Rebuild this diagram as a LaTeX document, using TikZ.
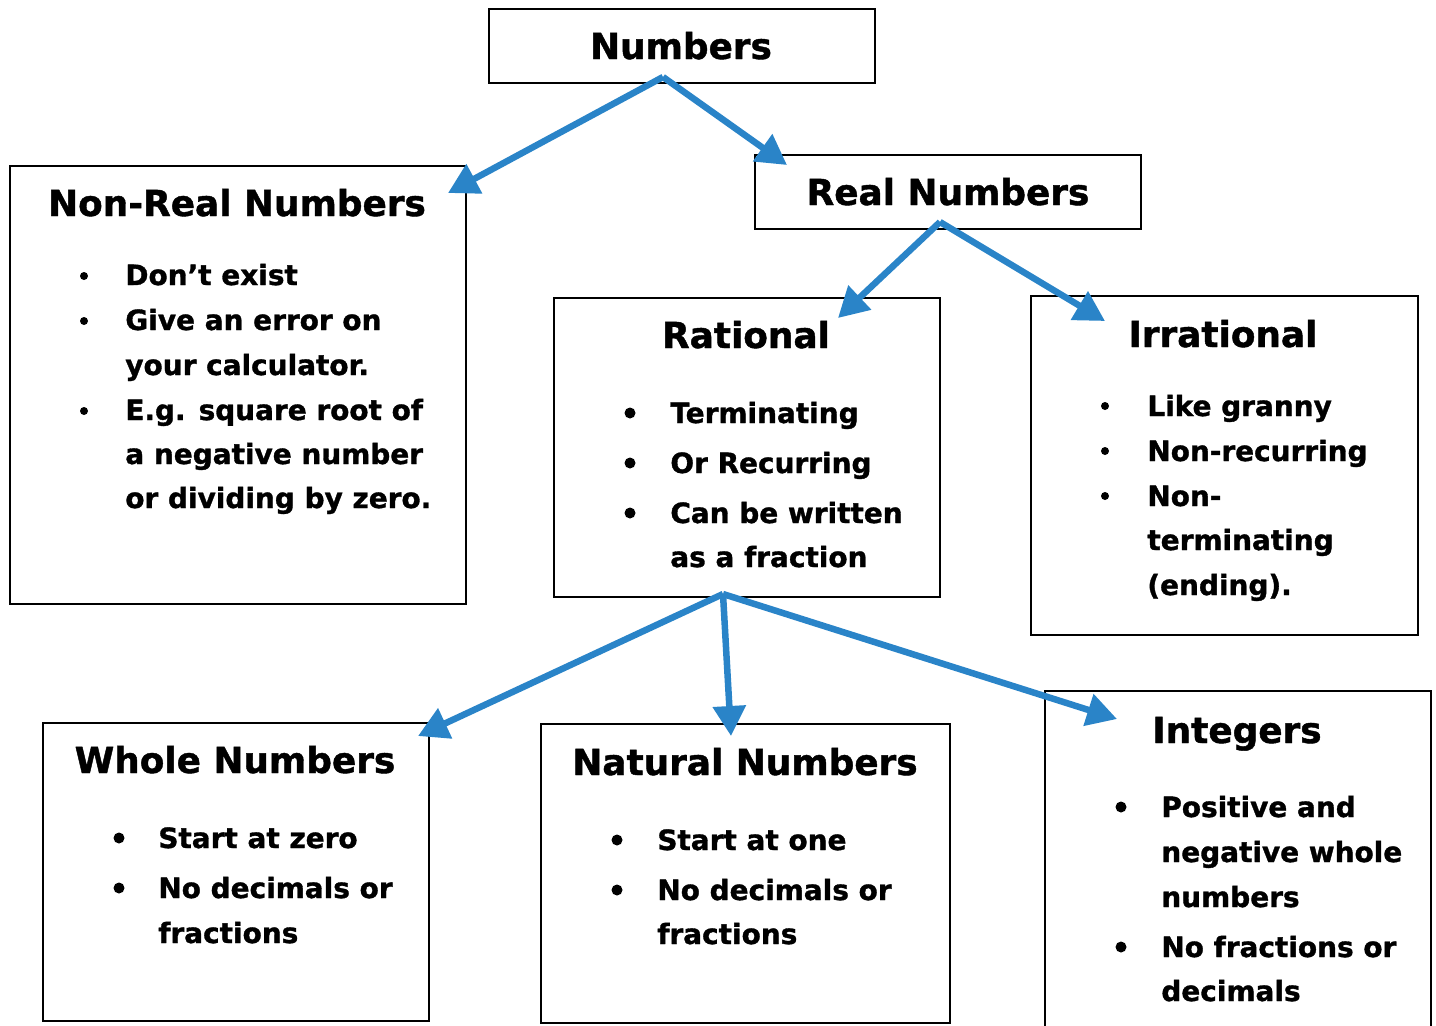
\documentclass[tikz,border=0pt]{standalone}
\usepackage{fontspec}
\setmainfont{DejaVu Sans}[BoldFeatures={FakeBold=1.2}]
\usetikzlibrary{arrows.meta}
\definecolor{linkblue}{RGB}{42,132,200}
\tikzset{
  box/.style={draw, line width=1.1pt, anchor=north west, inner sep=0pt},
  head/.style={anchor=base, inner sep=0pt, font=\bfseries\fontsize{20.4}{24}\selectfont},
  item/.style={anchor=base west, inner sep=0pt, font=\bfseries\fontsize{15.9}{19}\selectfont},
  link/.style={linkblue, line width=0.13cm, -{Triangle[length=0.6cm,width=0.64cm]}},
}
\begin{document}
\begin{tikzpicture}[x=0.02cm,y=-0.02cm]
  \useasboundingbox (0,0) rectangle (1436,1025);

  % boxes
  \node[box, minimum width=7.72cm, minimum height=1.48cm] (numbers) at (488,8) {};
  \node[box, minimum width=9.12cm, minimum height=8.76cm] (nonreal) at (9,165) {};
  \node[box, minimum width=7.72cm, minimum height=1.48cm] (real) at (754,154) {};
  \node[box, minimum width=7.72cm, minimum height=5.98cm] (rational) at (553,297) {};
  \node[box, minimum width=7.74cm, minimum height=6.78cm] (irrational) at (1030,295) {};
  \node[box, minimum width=7.72cm, minimum height=5.96cm] (whole) at (42,722) {};
  \node[box, minimum width=8.18cm, minimum height=5.98cm] (natural) at (540,723) {};
  \node[box, minimum width=7.72cm, minimum height=8cm] (integers) at (1044,690) {};

  % headings
  \node[head] (numbers-t) at (681,59) {Numbers};
  \node[head] (nonreal-t) at (237,216) {Non-Real Numbers};
  \node[head] (real-t) at (948,205) {Real Numbers};
  \node[head] (rational-t) at (746,348) {Rational};
  \node[head] (irrational-t) at (1223,347) {Irrational};
  \node[head] (whole-t) at (235,773) {Whole Numbers};
  \node[head] (natural-t) at (745,775) {Natural Numbers};
  \node[head] (integers-t) at (1237,743) {Integers};

  % bullets
  \foreach \x/\y in {84/276, 84/321, 84/411, 1105/406, 1105/451, 1105/496}
    \fill (\x,\y) circle[radius=0.08cm];
  \foreach \x/\y in {630/413, 630/463, 630/513, 119/838, 119/888,
                     617/840, 617/890, 1121/807, 1121/947}
    \fill (\x,\y) circle[radius=0.11cm];

  % non-real
  \node[item] (nr1) at (125,285) {Don’t exist};
  \node[item] (nr2) at (125,330) {Give an error on};
  \node[item] (nr3) at (125,375) {your calculator.};
  \node[item] (nr4) at (125,420) {E.g. square root of};
  \node[item] (nr5) at (125,464) {a negative number};
  \node[item] (nr6) at (125,508) {or dividing by zero.};

  % rational
  \node[item] (ra1) at (670,423) {Terminating};
  \node[item] (ra2) at (670,473) {Or Recurring};
  \node[item] (ra3) at (670,523) {Can be written};
  \node[item] (ra4) at (670,567) {as a fraction};

  % irrational
  \node[item] (ir1) at (1147,416) {Like granny};
  \node[item] (ir2) at (1147,461) {Non-recurring};
  \node[item] (ir3) at (1147,506) {Non-};
  \node[item] (ir4) at (1147,550) {terminating};
  \node[item] (ir5) at (1147,595) {(ending).};

  % whole
  \node[item] (wh1) at (158,848) {Start at zero};
  \node[item] (wh2) at (158,898) {No decimals or};
  \node[item] (wh3) at (158,943) {fractions};

  % natural
  \node[item] (na1) at (657,850) {Start at one};
  \node[item] (na2) at (657,900) {No decimals or};
  \node[item] (na3) at (657,944) {fractions};

  % integers
  \node[item] (in1) at (1161,817) {Positive and};
  \node[item] (in2) at (1161,862) {negative whole};
  \node[item] (in3) at (1161,907) {numbers};
  \node[item] (in4) at (1161,957) {No fractions or};
  \node[item] (in5) at (1161,1001) {decimals};

  % arrow ends
  \coordinate (numbers-out) at (663,77);
  \coordinate (real-out) at (940,222);
  \coordinate (rational-out) at (723,594);
  \coordinate (nonreal-in) at (448,193);
  \coordinate (real-in) at (787,165);
  \coordinate (rational-in) at (838,318);
  \coordinate (irrational-in) at (1105,321);
  \coordinate (whole-in) at (418,736);
  \coordinate (natural-in) at (731,736);
  \coordinate (integers-in) at (1117,719);

  \draw[link] (numbers-out) -- (nonreal-in);
  \draw[link] (numbers-out) -- (real-in);
  \draw[link] (real-out) -- (rational-in);
  \draw[link] (real-out) -- (irrational-in);
  \draw[link] (rational-out) -- (whole-in);
  \draw[link] (rational-out) -- (natural-in);
  \draw[link] (rational-out) -- (integers-in);
\end{tikzpicture}
\end{document}
